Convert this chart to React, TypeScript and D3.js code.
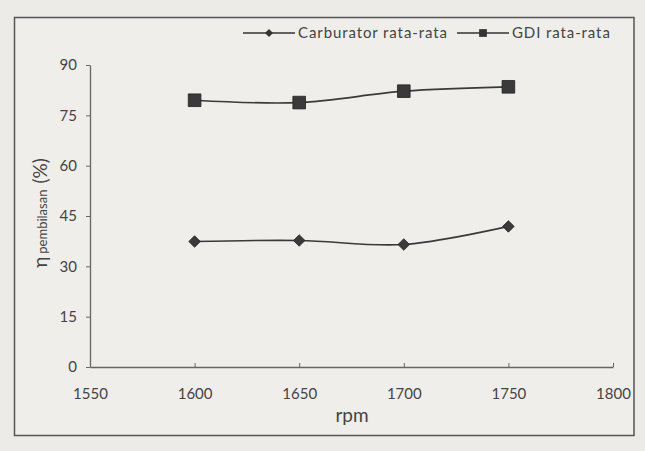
import React, { useEffect, useRef } from "react";
import * as d3 from "d3";

// average scavenging efficiency vs engine speed
const rpm = [1600, 1650, 1700, 1750];
const carburator = [37.4, 37.7, 36.5, 41.9];
const gdi = [79.5, 78.8, 82.2, 83.5];
const xTicks = [1550, 1600, 1650, 1700, 1750, 1800];
const yTicks = [0, 15, 30, 45, 60, 75, 90];
const seriesNames = ["Carburator rata-rata", "GDI rata-rata"];

const W = 645;
const H = 451;
const FONT = "Lato, 'Open Sans', sans-serif";

function App() {
  const ref = useRef<SVGSVGElement>(null);

  useEffect(() => {
    const svg = d3.select(ref.current);
    svg.selectAll("*").remove();

    svg.append("rect").attr("width", W).attr("height", H).attr("fill", "#ecebe8");

    // chart frame
    svg
      .append("rect")
      .attr("x", 14.5)
      .attr("y", 17.5)
      .attr("width", 619.5)
      .attr("height", 418)
      .attr("fill", "#efeeeb")
      .attr("stroke", "#555")
      .attr("stroke-width", 1.5);

    const x = d3.scaleLinear().domain([1550, 1800]).range([90, 613]);
    const y = d3.scaleLinear().domain([0, 90]).range([367, 65]);

    const xAxis = svg
      .append("g")
      .attr("transform", "translate(0,367)")
      .call(d3.axisBottom(x).tickValues(xTicks).tickSize(4).tickSizeOuter(0).tickPadding(17).tickFormat(d3.format("d")));
    xAxis.select(".domain").attr("stroke", "#666").attr("stroke-width", 1.3);
    xAxis.selectAll(".tick line").attr("stroke", "#666").attr("transform", "translate(0,-4)");
    xAxis.selectAll("text").attr("font-family", FONT).attr("font-size", 15).attr("fill", "#444");

    const yAxis = svg
      .append("g")
      .attr("transform", "translate(90,0)")
      .call(d3.axisLeft(y).tickValues(yTicks).tickSize(4).tickSizeOuter(0).tickPadding(9));
    yAxis.select(".domain").attr("stroke", "#666").attr("stroke-width", 1.3);
    yAxis.selectAll(".tick line").attr("stroke", "#666");
    yAxis.selectAll("text").attr("font-family", FONT).attr("font-size", 15).attr("fill", "#444");

    // axis titles
    svg
      .append("text")
      .attr("x", 352)
      .attr("y", 422)
      .attr("text-anchor", "middle")
      .attr("font-family", FONT)
      .attr("font-size", 19)
      .attr("fill", "#444")
      .text("rpm");

    const yTitle = svg
      .append("text")
      .attr("transform", "translate(47,213) rotate(-90)")
      .attr("text-anchor", "middle")
      .attr("font-family", FONT)
      .attr("fill", "#444");
    yTitle.append("tspan").attr("font-size", 19).text("η");
    yTitle.append("tspan").attr("font-size", 13).attr("dx", 3).text("pembilasan");
    yTitle.append("tspan").attr("font-size", 19).attr("dx", 6).text("(%)");

    const line = d3
      .line<number>()
      .x((_, i) => x(rpm[i]))
      .y((d) => y(d))
      .curve(d3.curveCatmullRom.alpha(0.5));

    const diamond = d3.symbol().type(d3.symbolDiamond2).size(85);
    const square = d3.symbol().type(d3.symbolSquare).size(160);

    const series = [
      { values: carburator, sym: diamond },
      { values: gdi, sym: square },
    ];

    series.forEach((s) => {
      svg
        .append("path")
        .attr("d", line(s.values))
        .attr("fill", "none")
        .attr("stroke", "#3a3a3a")
        .attr("stroke-width", 1.7);
      svg
        .selectAll(null)
        .data(s.values)
        .enter()
        .append("path")
        .attr("d", s.sym())
        .attr("transform", (d, i) => `translate(${x(rpm[i])},${y(d)})`)
        .attr("fill", "#3a3a3a")
        .attr("stroke", "#222")
        .attr("stroke-width", 0.8);
    });

    // legend
    const legendItems = [
      { name: seriesNames[0], x0: 243, sym: d3.symbol().type(d3.symbolDiamond2).size(40) },
      { name: seriesNames[1], x0: 457, sym: d3.symbol().type(d3.symbolSquare).size(60) },
    ];
    legendItems.forEach((it) => {
      const g = svg.append("g").attr("transform", `translate(${it.x0},33)`);
      g.append("line").attr("x1", 0).attr("x2", 52).attr("stroke", "#333").attr("stroke-width", 1.6);
      g.append("path").attr("d", it.sym()).attr("transform", "translate(26,0)").attr("fill", "#333");
      g.append("text")
        .attr("x", 55)
        .attr("y", 5)
        .attr("font-family", FONT)
        .attr("font-size", 15)
        .attr("letter-spacing", 0.9)
        .attr("fill", "#444")
        .text(it.name);
    });
  }, []);

  return (
    <svg
      ref={ref}
      width={W}
      height={H}
      style={{ position: "absolute", left: 0, top: 0, display: "block" }}
    />
  );
}

export default App;
